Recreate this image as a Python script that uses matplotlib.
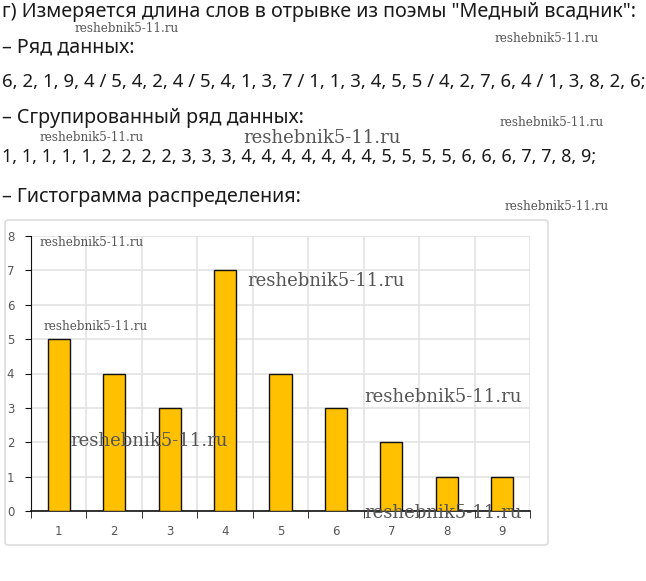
import matplotlib
matplotlib.use("Agg")
import matplotlib.pyplot as plt
from matplotlib.patches import FancyBboxPatch

W, H = 646, 581

word_lengths = [1, 2, 3, 4, 5, 6, 7, 8, 9]
counts = [5, 4, 3, 7, 4, 3, 2, 1, 1]
y_ticks = [0, 1, 2, 3, 4, 5, 6, 7, 8]

# text, x, y (center), target right edge
lines = [
    ('г) Измеряется длина слов в отрывке из поэмы "Медный всадник":', 2, 12, 640),
    ('– Ряд данных:', 2, 47, 142),
    ('6, 2, 1, 9, 4 / 5, 4, 2, 4 / 5, 4, 1, 3, 7 / 1, 1, 3, 4, 5, 5 / 4, 2, 7, 6, 4 / 1, 3, 8, 2, 6;', 2, 82, 644),
    ('– Сгрупированный ряд данных:', 2, 118, 310),
    ('1, 1, 1, 1, 1, 2, 2, 2, 2, 3, 3, 3, 4, 4, 4, 4, 4, 4, 4, 5, 5, 5, 5, 6, 6, 6, 7, 7, 8, 9;', 2, 157, 594),
    ('– Гистограмма распределения:', 2, 197, 302),
]

wm = "reshebnik5-11.ru"
watermarks = [
    (75, 29, 8.6), (495, 38, 8.6), (500, 122, 8.6), (40, 138, 8.6), (243, 138, 13),
    (505, 207, 8.6), (40, 242, 8.6), (247, 281, 13), (44, 326, 8.6),
    (364, 397, 13), (70, 441, 13), (364, 513, 13),
]

fig = plt.figure(figsize=(W / 100, H / 100), dpi=100)
fig.patch.set_facecolor("white")

def fx(x):
    return x / W

def fy(y):
    return 1 - y / H

renderer = fig.canvas.get_renderer()
base_fs = 14.2
for txt, x, y, right in lines:
    t = fig.text(fx(x), fy(y), txt, fontsize=base_fs, family="Noto Sans",
                 color="#1a1a1a", ha="left", va="center")
    w = t.get_window_extent(renderer).width
    target = right - x
    if w > target:
        t.set_fontsize(base_fs * target / w)

# chart frame
frame = FancyBboxPatch((fx(5), fy(545)), fx(548) - fx(5), fy(220) - fy(545),
                       boxstyle="round,pad=0,rounding_size=0.005",
                       transform=fig.transFigure, facecolor="white",
                       edgecolor="#dddddd", linewidth=1.2, zorder=-5)
fig.patches.append(frame)

ax = fig.add_axes([fx(31), fy(511), fx(530) - fx(31), fy(236) - fy(511)])
ax.set_zorder(2)
ax.set_xlim(0.5, 9.5)
ax.set_ylim(0, 8)
ax.bar(word_lengths, counts, width=0.4, color="#FFC000", edgecolor="#111111",
       linewidth=1.0, zorder=3)

ax.set_yticks(y_ticks)
ax.set_xticks(word_lengths)
ax.set_xticks([x + 0.5 for x in [0] + word_lengths], minor=True)
ax.tick_params(axis="x", which="major", length=0, labelsize=8.5, colors="#555555", pad=10)
ax.tick_params(axis="x", which="minor", length=5, color="#111111", direction="out")
ax.tick_params(axis="y", length=4, labelsize=8.5, colors="#555555", pad=8)
ax.tick_params(axis="y", color="#111111")
ax.grid(True, axis="y", color="#e3e3e3", linewidth=1.2, zorder=0)
ax.grid(True, axis="x", which="minor", color="#e3e3e3", linewidth=1.2, zorder=0)
for s in ["top", "right"]:
    ax.spines[s].set_visible(False)
ax.spines["left"].set_color("#111111")
ax.spines["bottom"].set_color("#111111")
ax.spines["bottom"].set_linewidth(1.2)
ax.set_facecolor("none")

for x, y, s in watermarks:
    fig.text(fx(x), fy(y), wm, fontsize=s, family="DejaVu Serif",
             color="#555555", ha="left", va="center", zorder=10)

fig.savefig("out.png", dpi=100, facecolor="white")
